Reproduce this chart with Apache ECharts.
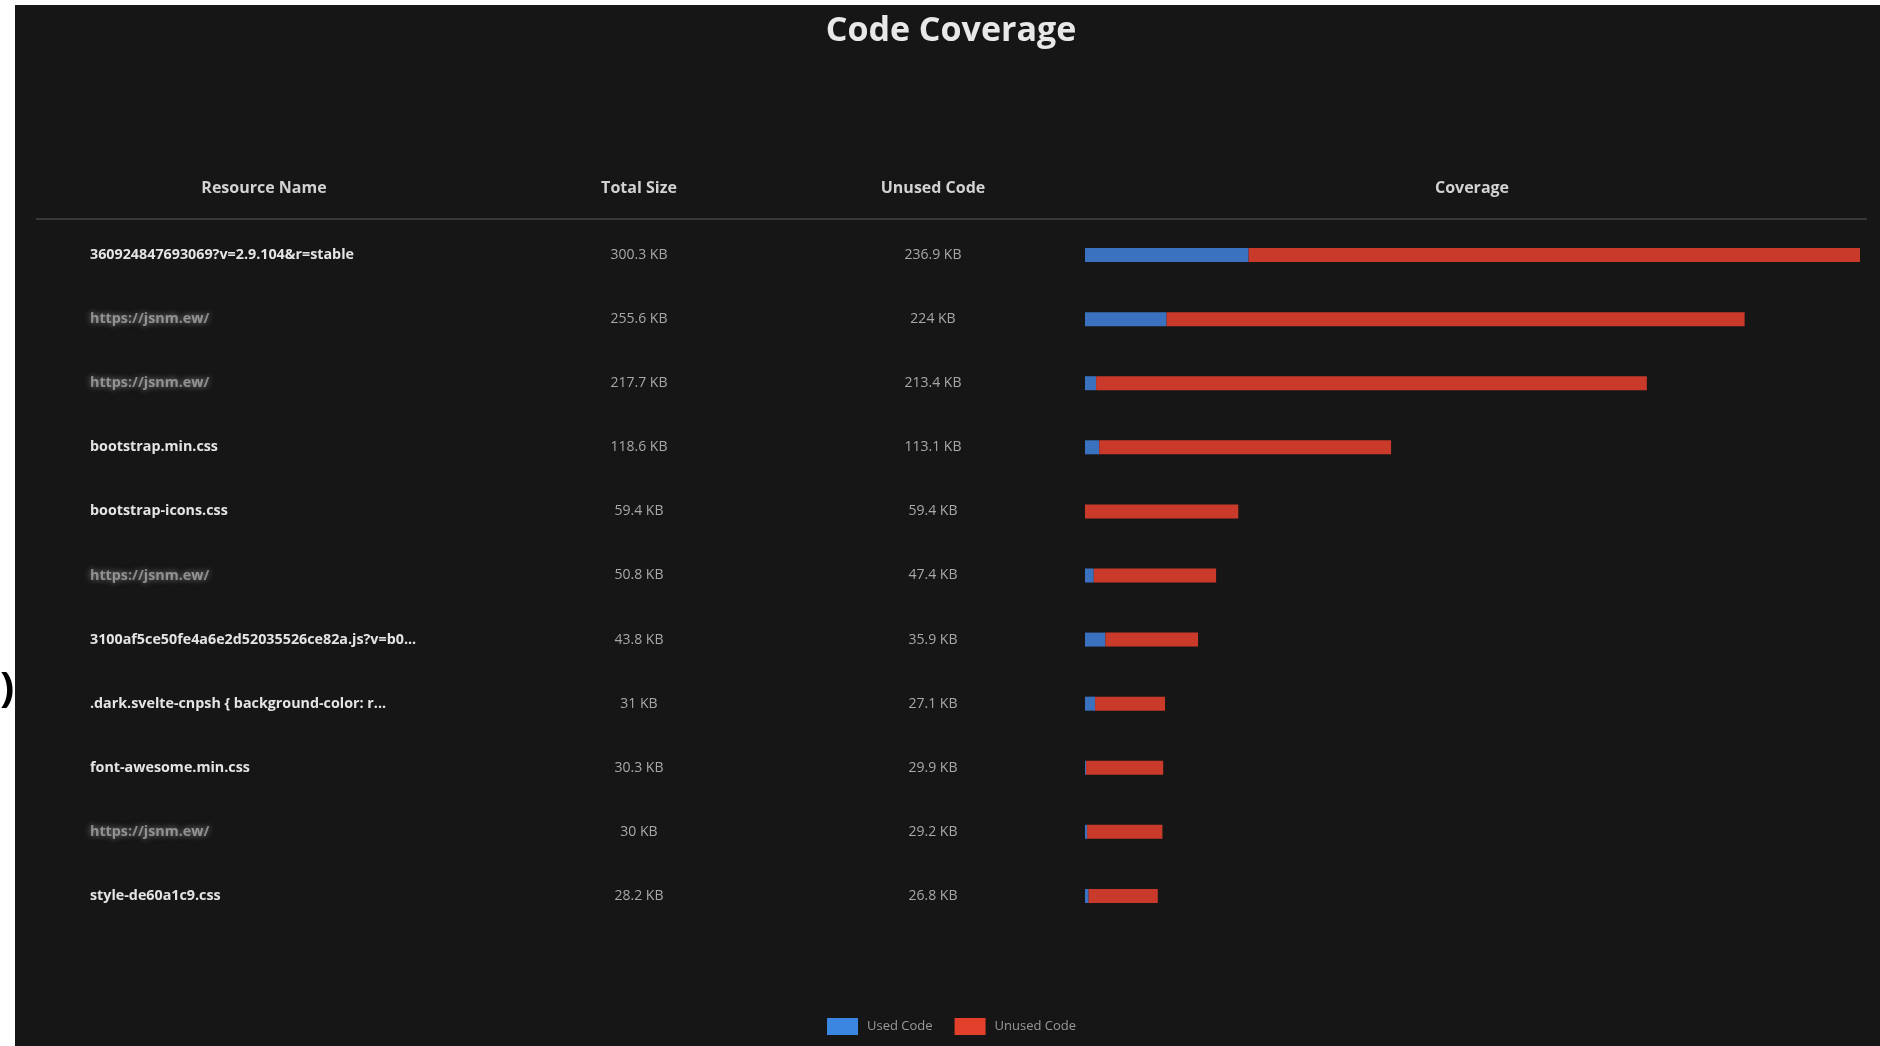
<!DOCTYPE html>
<html>
<head>
<meta charset="utf-8">
<script src="https://cdn.jsdelivr.net/npm/echarts@6/dist/echarts.min.js"></script>
<style>
  html, body { margin: 0; padding: 0; background: #ffffff; }
  #chart { width: 1880px; height: 1046px; }
</style>
</head>
<body>
<div id="chart"></div>
<script>
// ---- data ----
const resourceNames = [
  '360924847693069?v=2.9.104&r=stable',
  'https://jsnm.ew/',
  'https://jsnm.ew/',
  'bootstrap.min.css',
  'bootstrap-icons.css',
  'https://jsnm.ew/',
  '3100af5ce50fe4a6e2d52035526ce82a.js?v=b0...',
  '.dark.svelte-cnpsh { background-color: r...',
  'font-awesome.min.css',
  'https://jsnm.ew/',
  'style-de60a1c9.css'
];
const blurredRows = [false, true, true, false, false, true, false, false, false, true, false];
const totalSizeKB = [300.3, 255.6, 217.7, 118.6, 59.4, 50.8, 43.8, 31, 30.3, 30, 28.2];
const unusedKB   = [236.9, 224, 213.4, 113.1, 59.4, 47.4, 35.9, 27.1, 29.9, 29.2, 26.8];
const headerLabels = ['Resource Name', 'Total Size', 'Unused Code', 'Coverage'];
const seriesNames = ['Used Code', 'Unused Code'];
const chartTitle = 'Code Coverage';

const usedKB = totalSizeKB.map((t, i) => +(t - unusedKB[i]).toFixed(1));
const kb = v => v + ' KB';

const FONT = '"Open Sans", "Noto Sans", sans-serif';
const BLUE = '#3a72bf';
const RED = '#c93a2a';

const chart = echarts.init(document.getElementById('chart'));

const GRID_LEFT = 1085;
const headerY = 188;
const headerXs = [264, 639, 933, 1472];

const option = {
  backgroundColor: '#161616',
  animation: false,
  textStyle: { fontFamily: FONT },
  grid: { left: GRID_LEFT, right: 20, top: 223, height: 705, containLabel: false },
  xAxis: { type: 'value', min: 0, max: 300.3, show: false },
  yAxis: [
    {
      type: 'category', data: resourceNames, inverse: true, position: 'left',
      axisLine: { show: false }, axisTick: { show: false }, splitLine: { show: false },
      axisLabel: {
        margin: GRID_LEFT - 90, align: 'left', fontFamily: FONT,
        formatter: (v, i) => blurredRows[i] ? '{blur|' + v + '}' : '{n|' + v + '}',
        rich: {
          n: { color: '#e4e4e4', fontSize: 14.3, fontWeight: 'bold', fontFamily: FONT },
          blur: { color: 'rgba(215,215,215,0.55)', fontSize: 14.3, fontWeight: 'bold', fontFamily: FONT,
                  textShadowColor: 'rgba(235,235,235,0.95)', textShadowBlur: 6 }
        }
      }
    },
    {
      type: 'category', data: totalSizeKB.map(kb), inverse: true, position: 'left',
      axisLine: { show: false }, axisTick: { show: false }, splitLine: { show: false },
      axisLabel: { margin: GRID_LEFT - 639, align: 'center', color: '#a8a8a8', fontSize: 14, fontFamily: FONT }
    },
    {
      type: 'category', data: unusedKB.map(kb), inverse: true, position: 'left',
      axisLine: { show: false }, axisTick: { show: false }, splitLine: { show: false },
      axisLabel: { margin: GRID_LEFT - 933, align: 'center', color: '#a8a8a8', fontSize: 14, fontFamily: FONT }
    }
  ],
  legend: {
    left: 822, top: 1013, itemWidth: 31, itemHeight: 17, itemGap: 22,
    icon: 'rect',
    textStyle: { color: '#9a9a9a', fontSize: 13, fontFamily: FONT, padding: [0, 0, 0, 4] },
    data: [
      { name: seriesNames[0], itemStyle: { color: '#3b86e0' } },
      { name: seriesNames[1], itemStyle: { color: '#e2402a' } }
    ]
  },
  series: [
    { name: seriesNames[0], type: 'bar', stack: 'cov', barWidth: 14, data: usedKB, itemStyle: { color: BLUE } },
    { name: seriesNames[1], type: 'bar', stack: 'cov', barWidth: 14, data: unusedKB, itemStyle: { color: RED } }
  ],
  graphic: [
    { type: 'rect', shape: { x: 0, y: 0, width: 15, height: 1046 }, style: { fill: '#ffffff' }, z: 10 },
    { type: 'rect', shape: { x: 0, y: 0, width: 1880, height: 5 }, style: { fill: '#ffffff' }, z: 10 },
    { type: 'text', x: 0, y: 690, z: 11,
      style: { text: ')', fontSize: 42, fontWeight: 'bold', fill: '#000000', fontFamily: FONT, textVerticalAlign: 'middle' } },
    { type: 'text', x: 951, y: 31, z: 5,
      style: { text: chartTitle, fontSize: 34, fontWeight: 'bold', fill: '#e8e8e8', fontFamily: FONT,
               textAlign: 'center', textVerticalAlign: 'middle' } },
    ...headerLabels.map((h, i) => ({
      type: 'text', x: headerXs[i], y: headerY, z: 5,
      style: { text: h, fontSize: 16, fontWeight: 'bold', fill: '#d2d2d2', fontFamily: FONT,
               textAlign: 'center', textVerticalAlign: 'middle' }
    })),
    { type: 'line', shape: { x1: 36, y1: 219, x2: 1867, y2: 219 }, style: { stroke: '#383838', lineWidth: 2 }, z: 5 }
  ]
};

chart.setOption(option);
</script>
</body>
</html>
